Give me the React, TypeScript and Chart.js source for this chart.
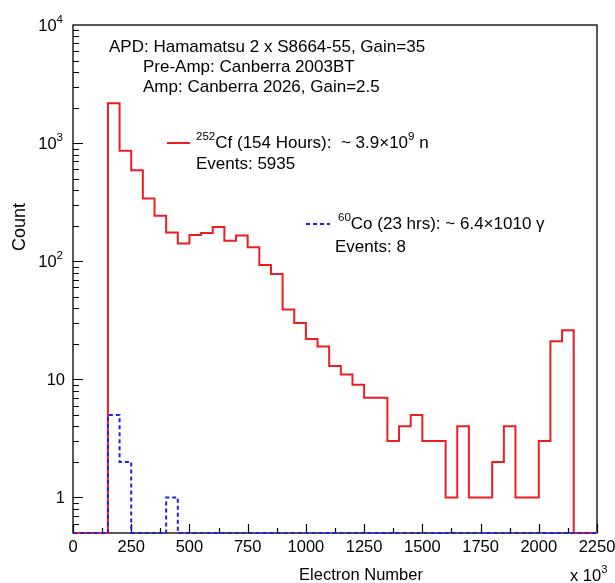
import React, { useEffect, useRef } from 'react';
import { Chart, registerables } from 'chart.js';

Chart.register(...registerables);

// ---------- data ----------
const BIN_WIDTH = 50;
const X_MIN = 0;
const X_MAX = 2250;
const Y_MIN = 0.5;
const Y_MAX = 10000;

// 252Cf spectrum, counts per 50k-electron bin starting at 0
const CF_COUNTS = [
  0, 0, 0, 2170, 860, 590, 340, 243, 175, 141,
  167, 173, 195, 149, 165, 131, 93, 78, 39, 30,
  22, 19, 13, 11, 9, 7, 7, 3, 4, 5,
  3, 3, 1, 4, 1, 1, 2, 4, 1, 1,
  3, 21, 26, 0, 0,
];

// 60Co spectrum
const CO_COUNTS = [
  0, 0, 0, 5, 2, 0, 0, 0, 1, 0,
  0, 0, 0, 0, 0, 0, 0, 0, 0, 0,
  0, 0, 0, 0, 0, 0, 0, 0, 0, 0,
  0, 0, 0, 0, 0, 0, 0, 0, 0, 0,
  0, 0, 0, 0, 0,
];

const X_TICKS = [0, 250, 500, 750, 1000, 1250, 1500, 1750, 2000, 2250];
const Y_DECADE_EXPONENTS = [0, 1, 2, 3, 4];

const INFO_LINES = [
  'APD: Hamamatsu 2 x S8664-55, Gain=35',
  'Pre-Amp: Canberra 2003BT',
  'Amp: Canberra 2026, Gain=2.5',
];
const CF_LABEL = [
  { t: '252', sup: true },
  { t: 'Cf (154 Hours):  ~ 3.9\u00d710' },
  { t: '9', sup: true },
  { t: ' n' },
];
const CF_EVENTS = 'Events: 5935';
const CO_LABEL = [
  { t: '60', sup: true },
  { t: 'Co (23 hrs): ~ 6.4\u00d71010 \u03b3' },
];
const CO_EVENTS = 'Events: 8';
const X_TITLE = 'Electron Number';
const Y_TITLE = 'Count';

const RED = '#ee1d23';
const BLUE = '#1f1fe6';
const FONT = '"Liberation Sans", Arial, Helvetica, sans-serif';

function toSteps(counts: number[]) {
  const pts = counts.map((c, i) => ({ x: X_MIN + i * BIN_WIDTH, y: Math.max(c, Y_MIN) }));
  pts.push({ x: X_MIN + counts.length * BIN_WIDTH, y: Y_MIN });
  return pts;
}

type Seg = { t: string; sup?: boolean };

function drawRich(ctx: CanvasRenderingContext2D, x: number, y: number, segs: Seg[], size = 17) {
  let cx = x;
  ctx.textAlign = 'left';
  ctx.textBaseline = 'middle';
  for (const s of segs) {
    if (s.sup) {
      ctx.font = `${size * 0.68}px ${FONT}`;
      ctx.fillText(s.t, cx, y - 6);
    } else {
      ctx.font = `${size}px ${FONT}`;
      ctx.fillText(s.t, cx, y);
    }
    cx += ctx.measureText(s.t).width;
  }
}

const overlay = {
  id: 'rootStyle',
  beforeDatasetsDraw(chart: any) {
    const { ctx, chartArea: a, scales } = chart;
    const xs = scales.x;
    const ys = scales.y;
    ctx.save();
    ctx.strokeStyle = '#000';
    ctx.lineWidth = 1.3;
    ctx.strokeRect(a.left, a.top, a.right - a.left, a.bottom - a.top);
    ctx.lineWidth = 1.2;
    ctx.beginPath();
    // x ticks (inward)
    for (let v = X_MIN; v <= X_MAX; v += 125) {
      const px = Math.round(xs.getPixelForValue(v)) + 0.5;
      const major = v % 250 === 0;
      ctx.moveTo(px, a.bottom);
      ctx.lineTo(px, a.bottom - (major ? 9 : 5));
    }
    // y ticks (inward)
    for (let e = -1; e < 4; e++) {
      for (let m = 1; m < 10; m++) {
        const v = m * Math.pow(10, e);
        if (v < Y_MIN || v > Y_MAX) continue;
        const py = Math.round(ys.getPixelForValue(v)) + 0.5;
        ctx.moveTo(a.left, py);
        ctx.lineTo(a.left + (m === 1 ? 10 : 6), py);
      }
    }
    ctx.stroke();
    ctx.restore();
  },
  afterDraw(chart: any) {
    const { ctx, chartArea: a, scales } = chart;
    const ys = scales.y;
    ctx.save();
    ctx.fillStyle = '#000';

    // y tick labels
    for (const e of Y_DECADE_EXPONENTS) {
      const py = ys.getPixelForValue(Math.pow(10, e));
      ctx.textBaseline = 'middle';
      if (e <= 1) {
        ctx.font = `16.5px ${FONT}`;
        ctx.textAlign = 'right';
        ctx.fillText(e === 0 ? '1' : '10', a.left - 8, py + 1);
      } else {
        ctx.font = `11.5px ${FONT}`;
        ctx.textAlign = 'right';
        const supW = ctx.measureText(String(e)).width;
        ctx.fillText(String(e), a.left - 10, py - 5);
        ctx.font = `16.5px ${FONT}`;
        ctx.fillText('10', a.left - 10 - supW, py + 1);
      }
    }

    // axis titles
    ctx.font = `16.5px ${FONT}`;
    ctx.textAlign = 'center';
    ctx.textBaseline = 'middle';
    ctx.fillText(X_TITLE, 361, 575);
    drawRich(ctx, 570, 576, [{ t: 'x 10' }, { t: '3', sup: true }], 16.5);

    ctx.save();
    ctx.translate(20, 227);
    ctx.rotate(-Math.PI / 2);
    ctx.font = `18px ${FONT}`;
    ctx.textAlign = 'center';
    ctx.textBaseline = 'middle';
    ctx.fillText(Y_TITLE, 0, 0);
    ctx.restore();

    // info text
    ctx.font = `17px ${FONT}`;
    ctx.textAlign = 'left';
    ctx.textBaseline = 'middle';
    ctx.fillText(INFO_LINES[0], 109, 47);
    ctx.fillText(INFO_LINES[1], 143, 67);
    ctx.fillText(INFO_LINES[2], 143, 87);

    // legend: Cf
    ctx.strokeStyle = RED;
    ctx.lineWidth = 2;
    ctx.beginPath();
    ctx.moveTo(167, 143);
    ctx.lineTo(190, 143);
    ctx.stroke();
    drawRich(ctx, 196, 143, CF_LABEL);
    ctx.font = `17px ${FONT}`;
    ctx.fillText(CF_EVENTS, 196, 164);

    // legend: Co
    ctx.strokeStyle = BLUE;
    ctx.setLineDash([4, 3]);
    ctx.beginPath();
    ctx.moveTo(306, 224);
    ctx.lineTo(330, 224);
    ctx.stroke();
    ctx.setLineDash([]);
    drawRich(ctx, 338, 224, CO_LABEL);
    ctx.font = `17px ${FONT}`;
    ctx.fillText(CO_EVENTS, 335, 247);

    ctx.restore();
  },
};

export default function App() {
  const ref = useRef<HTMLCanvasElement>(null);
  useEffect(() => {
    if (!ref.current) return;
    const chart = new Chart(ref.current, {
      type: 'line',
      data: {
        datasets: [
          {
            label: '252Cf',
            data: toSteps(CF_COUNTS),
            borderColor: RED,
            borderWidth: 2,
            stepped: 'before',
            pointRadius: 0,
            fill: false,
            clip: false as any,
            order: 1,
          },
          {
            label: '60Co',
            data: toSteps(CO_COUNTS),
            borderColor: BLUE,
            borderWidth: 2,
            borderDash: [4, 3],
            stepped: 'before',
            pointRadius: 0,
            fill: false,
            clip: false as any,
            order: 0,
          },
        ],
      },
      options: {
        animation: false,
        responsive: false,
        devicePixelRatio: 1,
        events: [],
        layout: { padding: { left: 0, top: 25, right: 18, bottom: 0 } },
        plugins: { legend: { display: false }, tooltip: { enabled: false } },
        scales: {
          x: {
            type: 'linear',
            min: X_MIN,
            max: X_MAX,
            grid: { display: false, drawTicks: false },
            border: { display: false },
            afterBuildTicks: (s: any) => {
              s.ticks = X_TICKS.map((v) => ({ value: v }));
            },
            afterFit: (s: any) => {
              s.height = 50;
              s.paddingLeft = 0;
              s.paddingRight = 0;
            },
            ticks: {
              autoSkip: false,
              maxRotation: 0,
              padding: 5,
              color: '#000',
              font: { family: FONT, size: 16.5 },
              callback: (v: any) => String(v),
            },
          },
          y: {
            type: 'logarithmic',
            min: Y_MIN,
            max: Y_MAX,
            grid: { display: false, drawTicks: false },
            border: { display: false },
            ticks: { display: false },
            afterFit: (s: any) => {
              s.width = 73;
            },
          },
        },
      },
      plugins: [overlay],
    } as any);
    return () => chart.destroy();
  }, []);
  return (
    <div style={{ position: 'absolute', left: 0, top: 0, width: 615, height: 583, background: '#fff' }}>
      <canvas ref={ref} width={615} height={583} style={{ display: 'block' }} />
    </div>
  );
}
